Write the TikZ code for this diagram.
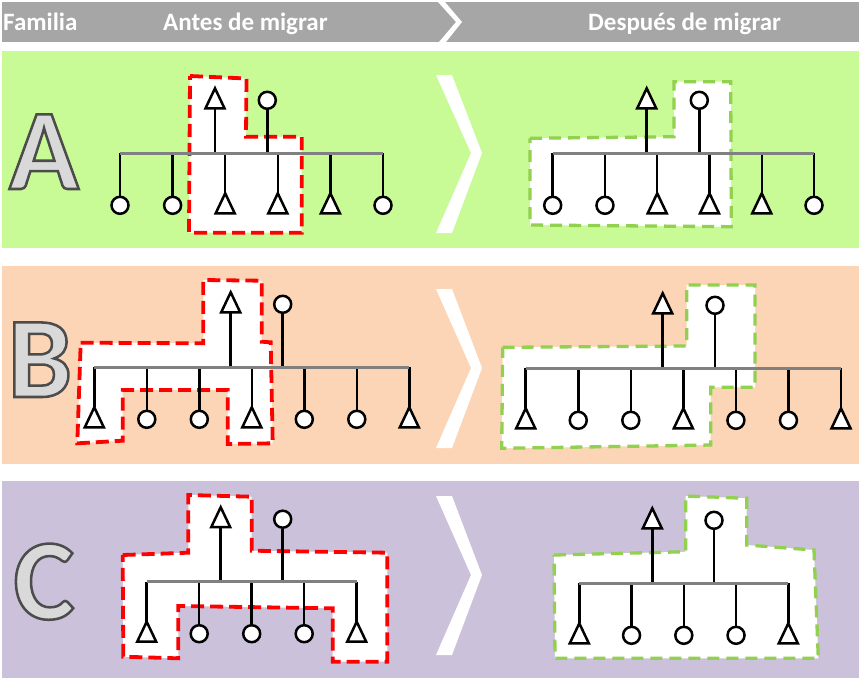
\documentclass[tikz,border=0pt]{standalone}
\usepackage{fontspec}
\setmainfont{Carlito}
\newfontfamily\bigfont[FakeBold=2.2]{Carlito Bold}
\definecolor{hdr}{RGB}{166,166,166}
\definecolor{rowA}{RGB}{200,250,150}
\definecolor{rowB}{RGB}{251,213,181}
\definecolor{rowC}{RGB}{204,193,218}
\definecolor{zgreen}{RGB}{146,208,80}
\definecolor{barg}{RGB}{128,128,128}
\definecolor{letterfill}{RGB}{217,217,217}
\newcommand{\edgestroke}{\special{pdf:code 0.3 0.3 0.3 RG}}
\tikzset{
  circ/.style={circle, draw=black, fill=white, line width=2.5pt, minimum size=17pt, inner sep=0pt},
  tri/.style={draw=black, fill=white, line width=2.5pt},
  stem/.style={draw=black, line width=2.5pt},
  bar/.style={draw=barg, line width=3pt},
  redzone/.style={fill=white, draw=red, line width=3.8pt, dash pattern=on 13pt off 6pt},
  greenzone/.style={fill=white, draw=zgreen, line width=3.3pt, dash pattern=on 12pt off 7pt},
  chev/.style={fill=white, draw=none},
  hdrtext/.style={text=white, font=\bfseries\fontsize{25}{25}\selectfont, inner sep=0pt, anchor=base west},
  bigletter/.style={font=\bigfont\fontsize{115}{115}\selectfont, inner sep=0pt, anchor=base}
}
% #1 prefix, #2 bar y, #3 x0, #4 dx, #5 types, #6 bar right x, #7 parent tri x, #8 parent circle x, #9 parent apex offset
\newcommand{\famtree}[9]{%
  \coordinate (#1L) at (#3,#2);
  \coordinate (#1R) at (#6,#2);
  \coordinate (#1pt) at (#7,#2-#9+20);
  \node[circ] (#1pc) at (#8,#2-#9+12) {};
  \draw[stem] (#1pt) -- (#1pt |- #1L);
  \draw[stem] (#1pc) -- (#1pc |- #1L);
  \draw[tri] ([xshift=-9.5pt]#1pt) -- ++(9.5,-20) -- ++(9.5,20) -- cycle;
  \foreach \k/\t in {#5} {
    \if\t c
      \node[circ] (#1\k) at ({#3+\k*#4},#2+52) {};
    \else
      \coordinate (#1\k) at ({#3+\k*#4},#2+40);
      \draw[tri] (#1\k) -- ++(-9.5,20) -- ++(19,0) -- cycle;
    \fi
    \draw[stem] (#1\k) -- (#1\k |- #1L);
  }
  \draw[bar] (#1L) -- (#1R);
}
\begin{document}
\begin{tikzpicture}[x=1pt,y=-1pt]
\useasboundingbox (0,0) rectangle (861,681);
\fill[white] (0,0) rectangle (861,681);
% header
\fill[hdr] (2,2) rectangle (859,42);
\fill[chev] (438,2) -- (445,2) -- (462,22) -- (446,42) -- (439,42) -- (456,22) -- cycle;
\node[hdrtext] (hfam) at (3,30) {Familia};
\node[hdrtext] (hantes) at (163,30) {Antes de migrar};
\node[hdrtext] (hdesp) at (588,30) {Después de migrar};
% rows
\fill[rowA] (2,51) rectangle (859,248);
\fill[rowB] (2,266) rectangle (859,464);
\fill[rowC] (2,481) rectangle (859,678);
% big letters
\node[bigletter] (LA) at (44,189) {\color{letterfill}\edgestroke A};
\node[bigletter] (LB) at (40,397) {\color{letterfill}\edgestroke B};
\node[bigletter] (LC) at (44,619) {\color{letterfill}\edgestroke C};
% chevrons
\fill[chev] (436,75) -- (452,75) -- (482,153) -- (452,233) -- (436,233) -- (471,153) -- cycle;
\fill[chev] (436,289) -- (452,289) -- (482,368) -- (452,448) -- (436,448) -- (471,368) -- cycle;
\fill[chev] (436,496) -- (452,496) -- (482,575) -- (452,655) -- (436,655) -- (471,575) -- cycle;
% zones
\draw[redzone] (190,76) -- (246.5,78.5) -- (246,136.7) -- (301.7,136.7) -- (301.7,232.7) -- (189,232.7) -- cycle;
\draw[greenzone] (530,138.3) -- (674,136.7) -- (674,81.7) -- (730.7,81.7) -- (731.3,226.7) -- (530,225) -- cycle;
\draw[redzone] (80.7,342.7) -- (203.3,343.3) -- (203.3,280) -- (261.7,280.7) -- (261.7,341.7) -- (270.7,342.3) -- (272.7,443.3) -- (227.7,444) -- (227.7,390) -- (122.7,390) -- (122.7,440.7) -- (77.3,443.3) -- cycle;
\draw[greenzone] (502.7,347.3) -- (686.7,346) -- (686.7,285) -- (755,285) -- (755,387.3) -- (710.7,387.3) -- (710.7,445) -- (501.7,448.3) -- cycle;
\draw[redzone] (122.7,555) -- (188.3,552.7) -- (188.3,495) -- (251.7,496.7) -- (251.7,550.7) -- (387.3,552.7) -- (387.3,661.7) -- (332.7,661.7) -- (332.7,608.3) -- (178.3,606) -- (178.3,658.3) -- (123.3,656.7) -- cycle;
\draw[greenzone] (554,555) -- (685.7,551.7) -- (685.7,496) -- (746.7,498.3) -- (746.7,545) -- (814,550) -- (818.3,658.3) -- (555,658.3) -- cycle;
% trees
\famtree{Aa}{153.3}{120}{52.6}{0/c,1/c,2/t,3/t,4/t,5/c}{383}{215}{267.3}{65}
\famtree{Ab}{153.3}{552.7}{52.26}{0/c,1/c,2/t,3/t,4/t,5/c}{814}{646.7}{699.3}{65}
\famtree{Ba}{367.3}{94.3}{52.5}{0/t,1/c,2/c,3/t,4/c,5/c,6/t}{409.3}{230.7}{282.7}{75}
\famtree{Bb}{368.3}{525.7}{52.55}{0/t,1/c,2/c,3/t,4/c,5/c,6/t}{841}{662.7}{715}{75}
\famtree{Ca}{581.7}{146.7}{52.5}{0/t,1/c,2/c,3/c,4/t}{356.7}{220.7}{282.7}{74.5}
\famtree{Cb}{583.3}{579.3}{52.25}{0/t,1/c,2/c,3/c,4/t}{788.3}{652.3}{714}{75}
\end{tikzpicture}
\end{document}
